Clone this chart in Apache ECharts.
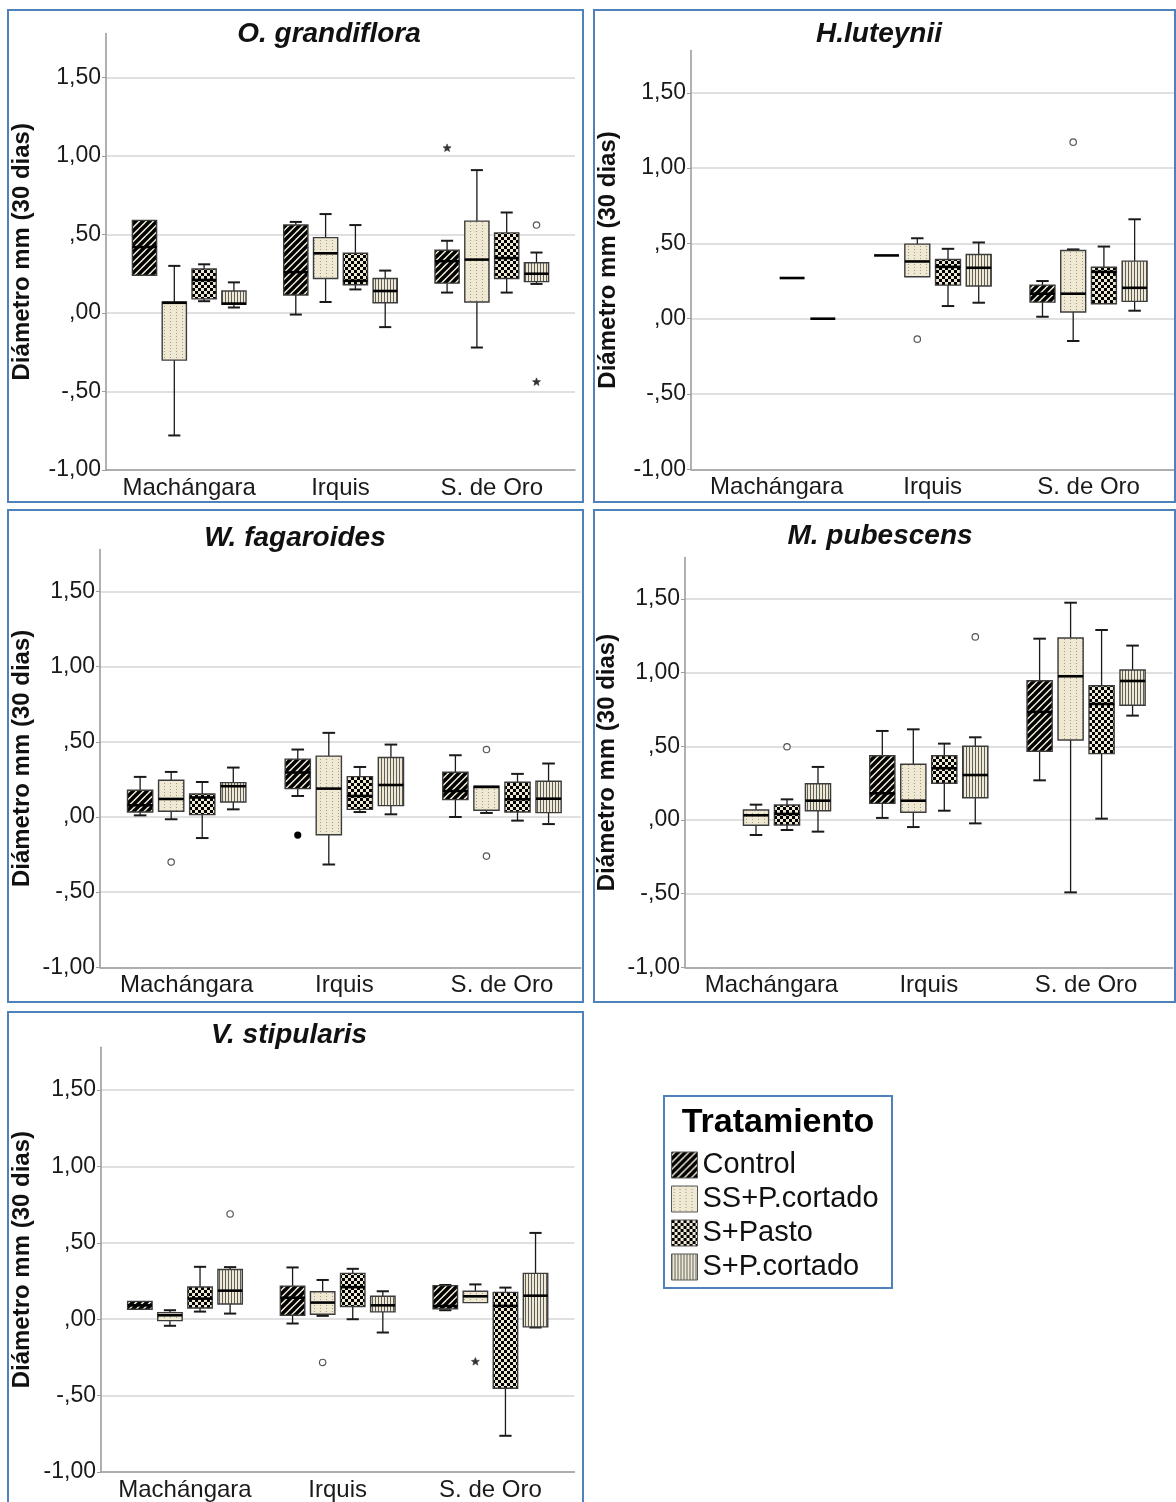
<!DOCTYPE html>
<html><head><meta charset="utf-8">
<script src="https://cdn.jsdelivr.net/npm/echarts@6/dist/echarts.min.js"></script>
<style>html,body{margin:0;padding:0;background:#fff}#c{width:1176px;height:1502px}</style>
</head><body><div id="c"></div><script>
// ---------- data ----------
const sites = ['Machángara', 'Irquis', 'S. de Oro'];
const treatments = ['Control', 'SS+P.cortado', 'S+Pasto', 'S+P.cortado'];
const yTicks = [-1, -0.5, 0, 0.5, 1, 1.5];
const xTicks = [0, 1, 2];
const yName = 'Diámetro mm (30 dias)';
const species = ['O. grandiflora', 'H.luteynii', 'W. fagaroides', 'M. pubescens', 'V. stipularis'];

// each row: [min, Q1, median, Q3, max] per site (Machángara, Irquis, S. de Oro); null = no data
const ogControl = [[0.24, 0.24, 0.42, 0.59, 0.59], [-0.01, 0.115, 0.26, 0.56, 0.58], [0.13, 0.19, 0.33, 0.40, 0.46]];
const ogSS      = [[-0.78, -0.30, 0.065, 0.07, 0.30], [0.07, 0.22, 0.38, 0.48, 0.63], [-0.22, 0.07, 0.34, 0.585, 0.91]];
const ogPasto   = [[0.075, 0.09, 0.21, 0.28, 0.31], [0.15, 0.18, 0.205, 0.38, 0.56], [0.13, 0.22, 0.35, 0.51, 0.64]];
const ogSPc     = [[0.035, 0.055, 0.06, 0.14, 0.195], [-0.09, 0.065, 0.14, 0.22, 0.27], [0.185, 0.20, 0.25, 0.32, 0.385]];
const ogOut     = [[2, 0, 1.05, '*'], [2, 3, 0.56, 'o'], [2, 3, -0.44, '*']];

const hlControl = [null, [0.42, 0.42, 0.42, 0.42, 0.42], [0.013, 0.11, 0.166, 0.223, 0.25]];
const hlSS      = [null, [0.278, 0.278, 0.38, 0.495, 0.534], [-0.148, 0.044, 0.166, 0.453, 0.46]];
const hlPasto   = [[0.27, 0.27, 0.27, 0.27, 0.27], [0.084, 0.223, 0.344, 0.393, 0.464], [0.099, 0.099, 0.311, 0.342, 0.479]];
const hlSPc     = [[0, 0, 0, 0, 0], [0.106, 0.217, 0.338, 0.426, 0.506], [0.053, 0.115, 0.205, 0.382, 0.66]];
const hlOut     = [[1, 1, -0.136, 'o'], [2, 1, 1.172, 'o']];

const wfControl = [[0.011, 0.033, 0.078, 0.178, 0.267], [0.14, 0.189, 0.296, 0.385, 0.449], [0.0, 0.116, 0.173, 0.298, 0.411]];
const wfSS      = [[-0.015, 0.038, 0.12, 0.245, 0.30], [-0.316, -0.118, 0.189, 0.405, 0.56], [0.027, 0.045, 0.20, 0.205, 0.205]];
const wfPasto   = [[-0.14, 0.016, 0.13, 0.153, 0.233], [0.033, 0.051, 0.14, 0.269, 0.333], [-0.024, 0.033, 0.118, 0.231, 0.287]];
const wfSPc     = [[0.051, 0.10, 0.205, 0.229, 0.329], [0.018, 0.076, 0.213, 0.396, 0.482], [-0.047, 0.029, 0.122, 0.238, 0.356]];
const wfOut     = [[0, 1, -0.30, 'o'], [1, 0, -0.12, '•'], [2, 1, 0.449, 'o'], [2, 1, -0.26, 'o']];

const mpControl = [null, [0.014, 0.113, 0.181, 0.436, 0.604], [0.269, 0.466, 0.733, 0.945, 1.23]];
const mpSS      = [[-0.102, -0.036, 0.032, 0.068, 0.104], [-0.048, 0.052, 0.131, 0.378, 0.615], [-0.491, 0.543, 0.975, 1.235, 1.474]];
const mpPasto   = [[-0.068, -0.034, 0.041, 0.102, 0.14], [0.063, 0.249, 0.351, 0.436, 0.518], [0.009, 0.45, 0.787, 0.911, 1.289]];
const mpSPc     = [[-0.079, 0.063, 0.131, 0.246, 0.36], [-0.023, 0.151, 0.305, 0.50, 0.561], [0.708, 0.778, 0.943, 1.018, 1.183]];
const mpOut     = [[0, 2, 0.497, 'o'], [1, 3, 1.242, 'o']];

const vsControl = [[0.065, 0.065, 0.091, 0.117, 0.117], [-0.028, 0.026, 0.141, 0.217, 0.339], [0.059, 0.068, 0.087, 0.22, 0.224]];
const vsSS      = [[-0.043, -0.009, 0.026, 0.043, 0.059], [0.022, 0.033, 0.109, 0.18, 0.257], [0.109, 0.109, 0.15, 0.183, 0.228]];
const vsPasto   = [[0.05, 0.074, 0.135, 0.211, 0.343], [0.0, 0.083, 0.21, 0.30, 0.33], [-0.763, -0.452, 0.087, 0.176, 0.207]];
const vsSPc     = [[0.037, 0.10, 0.187, 0.326, 0.341], [-0.087, 0.048, 0.091, 0.15, 0.183], [-0.054, -0.05, 0.154, 0.30, 0.565]];
const vsOut     = [[0, 3, 0.689, 'o'], [1, 1, -0.283, 'o'], [2, 1, -0.278, '*']];

// ---------- layout / style ----------
const FONT = '"Liberation Sans", Arial, sans-serif';
const BLUE = '#4f81bd';
const BEIGE = '#efe9d3';
const SPACING = 0.197, WIDTH = 0.16;

const panels = [
  { title: species[0], frame: [8, 10, 575, 492], grid: { left: 106, top: 33.5, width: 469, height: 436.5 }, xMin: -0.55, xMax: 2.55, tx: 324, ty: 30, gap: 72,
    sets: [ogControl, ogSS, ogPasto, ogSPc], out: ogOut },
  { title: species[1], frame: [594, 10, 581, 492], grid: { left: 691, top: 50.6, width: 483.3, height: 418.7 }, xMin: -0.55, xMax: 2.55, tx: 874, ty: 30, gap: 71,
    sets: [hlControl, hlSS, hlPasto, hlSPc], out: hlOut },
  { title: species[2], frame: [8, 510, 575, 492], grid: { left: 100, top: 549.5, width: 480.8, height: 417.8 }, xMin: -0.55, xMax: 2.5, tx: 290, ty: 534, gap: 66,
    sets: [wfControl, wfSS, wfPasto, wfSPc], out: wfOut },
  { title: species[3], frame: [594, 510, 581, 492], grid: { left: 685, top: 557.6, width: 487.6, height: 409.8 }, xMin: -0.55, xMax: 2.55, tx: 875, ty: 532, gap: 66,
    sets: [mpControl, mpSS, mpPasto, mpSPc], out: mpOut },
  { title: species[4], frame: [8, 1012, 575, 500], grid: { left: 101, top: 1047.3, width: 473.4, height: 425.9 }, xMin: -0.55, xMax: 2.55, tx: 284, ty: 1031, gap: 67,
    sets: [vsControl, vsSS, vsPasto, vsSPc], out: vsOut }
];

function tile(w, h, draw) {
  const c = document.createElement('canvas'); c.width = w; c.height = h;
  const g = c.getContext('2d'); g.fillStyle = BEIGE; g.fillRect(0, 0, w, h); draw(g, w, h); return c;
}
const patterns = [
  tile(7, 7, (g, w, h) => { g.strokeStyle = '#000'; g.lineWidth = 3.4; g.beginPath();
    for (const o of [-w, 0, w]) { g.moveTo(o - 1, h + 1); g.lineTo(o + w + 1, -1); } g.stroke(); }),
  tile(6, 3, (g) => { g.fillStyle = '#a39b83'; g.fillRect(2, 0, 1, 1); }),
  tile(6, 6, (g) => { g.fillStyle = '#000'; g.fillRect(0, 0, 3, 3); g.fillRect(3, 3, 3, 3); }),
  tile(3, 1, (g) => { g.fillStyle = '#5e5e5e'; g.fillRect(0, 0, 1, 1); })
].map(c => ({ image: c, repeat: 'repeat' }));

function fmtY(v) {
  const a = Math.abs(v).toFixed(2).replace('.', ',');
  return (v < 0 ? '-' : '') + (a.startsWith('0') ? a.slice(1) : a);
}

function boxRenderer(k) {
  return function (params, api) {
    const site = api.value(0);
    const unit = api.size([1, 0])[0];
    const cx = api.coord([site, 0])[0] + (k - 1.5) * SPACING * unit;
    const w = WIDTH * unit, half = w / 2, cap = w / 4;
    const Y = d => api.coord([site, api.value(d)])[1];
    const yMin = Y(1), yQ1 = Y(2), yMed = Y(3), yQ3 = Y(4), yMax = Y(5);
    const wl = { stroke: '#1a1a1a', lineWidth: 1.3 };
    const cl = { stroke: '#1a1a1a', lineWidth: 2 };
    const ch = [];
    if (yQ3 - yMax > 0.5) {
      ch.push({ type: 'line', shape: { x1: cx, y1: yQ3, x2: cx, y2: yMax }, style: wl });
      ch.push({ type: 'line', shape: { x1: cx - cap, y1: yMax, x2: cx + cap, y2: yMax }, style: cl });
    }
    if (yMin - yQ1 > 0.5) {
      ch.push({ type: 'line', shape: { x1: cx, y1: yQ1, x2: cx, y2: yMin }, style: wl });
      ch.push({ type: 'line', shape: { x1: cx - cap, y1: yMin, x2: cx + cap, y2: yMin }, style: cl });
    }
    if (yQ1 - yQ3 > 0.5) {
      ch.push({ type: 'rect', shape: { x: cx - half, y: yQ3, width: w, height: yQ1 - yQ3 },
        style: { fill: patterns[k], stroke: '#3c3c3c', lineWidth: 1.4 } });
    }
    ch.push({ type: 'line', shape: { x1: cx - half, y1: yMed, x2: cx + half, y2: yMed }, style: { stroke: '#000', lineWidth: 2.6 } });
    return { type: 'group', children: ch };
  };
}

function outlierRenderer(list) {
  return function (params, api) {
    const site = api.value(0), k = api.value(1), v = api.value(2);
    const unit = api.size([1, 0])[0];
    const p = api.coord([site, v]);
    const cx = p[0] + (k - 1.5) * SPACING * unit, cy = p[1];
    const kind = list[params.dataIndex][3];
    if (kind === '*') {
      const pts = [];
      for (let i = 0; i < 10; i++) {
        const r = i % 2 === 0 ? 4.2 : 1.8, a = -Math.PI / 2 + i * Math.PI / 5;
        pts.push([cx + r * Math.cos(a), cy + r * Math.sin(a)]);
      }
      return { type: 'polygon', shape: { points: pts }, style: { fill: '#333', stroke: '#333', lineWidth: 0.6 } };
    }
    if (kind === '•') {
      return { type: 'circle', shape: { cx, cy, r: 3.6 }, style: { fill: '#000' } };
    }
    return { type: 'circle', shape: { cx, cy, r: 3.2 }, style: { fill: '#fff', stroke: '#555', lineWidth: 1.2 } };
  };
}

const grid = [], xAxis = [], yAxis = [], series = [], title = [], graphic = [];
panels.forEach((P, pi) => {
  grid.push(Object.assign({ containLabel: false }, P.grid));
  xAxis.push({
    type: 'value', gridIndex: pi, min: P.xMin, max: P.xMax,
    axisLine: { show: true, onZero: false, lineStyle: { color: '#9d9d9d', width: 1.6 } },
    axisTick: { show: false, customValues: xTicks },
    splitLine: { show: false },
    axisLabel: { customValues: xTicks, formatter: v => sites[Math.round(v)], fontSize: 24, color: '#1a1a1a', fontFamily: FONT, margin: 6 }
  });
  yAxis.push({
    type: 'value', gridIndex: pi, min: -1, max: 1.78,
    name: yName, nameLocation: 'middle', nameRotate: 90, nameGap: P.gap,
    nameTextStyle: { fontSize: 24, fontWeight: 'bold', color: '#111', fontFamily: FONT },
    axisLine: { show: true, onZero: false, lineStyle: { color: '#9d9d9d', width: 1.6 } },
    axisTick: { show: true, length: 4, customValues: yTicks, lineStyle: { color: '#9d9d9d', width: 1 } },
    splitLine: { show: true, lineStyle: { color: '#d6d6d6', width: 1.5 } },
    axisLabel: { customValues: yTicks, formatter: fmtY, fontSize: 23, color: '#1a1a1a', fontFamily: FONT, margin: 5 }
  });
  P.sets.forEach((arr, k) => {
    series.push({
      type: 'custom', name: treatments[k], xAxisIndex: pi, yAxisIndex: pi,
      itemStyle: { color: patterns[k] },
      encode: { x: 0, y: [1, 2, 3, 4, 5] },
      data: arr.map((b, i) => b ? [i].concat(b) : null).filter(Boolean),
      renderItem: boxRenderer(k), silent: true
    });
  });
  series.push({
    type: 'custom', name: 'atípicos', xAxisIndex: pi, yAxisIndex: pi,
    encode: { x: 0, y: 2 },
    data: P.out.map(o => [o[0], o[1], o[2]]),
    renderItem: outlierRenderer(P.out), silent: true
  });
  title.push({ text: P.title, left: P.tx, top: P.ty - 15, textAlign: 'center',
    textStyle: { fontSize: 28, fontWeight: 'bold', fontStyle: 'italic', color: '#111', fontFamily: FONT } });
  const f = P.frame;
  graphic.push({ type: 'rect', shape: { x: f[0], y: f[1], width: f[2], height: f[3] }, style: { fill: 'none', stroke: BLUE, lineWidth: 2 }, silent: true, z: 100 });
});

// legend frame + title
graphic.push({ type: 'rect', shape: { x: 664, y: 1096, width: 228, height: 192 }, style: { fill: 'none', stroke: BLUE, lineWidth: 2 }, silent: true });
title.push({ text: 'Tratamiento', left: 773, top: 1101, textAlign: 'center',
  textStyle: { fontSize: 34, fontWeight: 'bold', color: '#000', fontFamily: FONT } });

const chart = echarts.init(document.getElementById('c'), null, { renderer: 'canvas' });
chart.setOption({
  animation: false,
  backgroundColor: '#fff',
  title, grid, xAxis, yAxis, series, graphic,
  legend: {
    data: treatments, orient: 'vertical', left: 671, top: 1149, itemWidth: 26, itemHeight: 26, itemGap: 2,
    icon: 'rect', selectedMode: false, padding: 0,
    itemStyle: { borderColor: '#555', borderWidth: 1 },
    textStyle: { fontSize: 29, color: '#111', fontFamily: FONT, lineHeight: 32 }
  }
});
</script></body></html>
